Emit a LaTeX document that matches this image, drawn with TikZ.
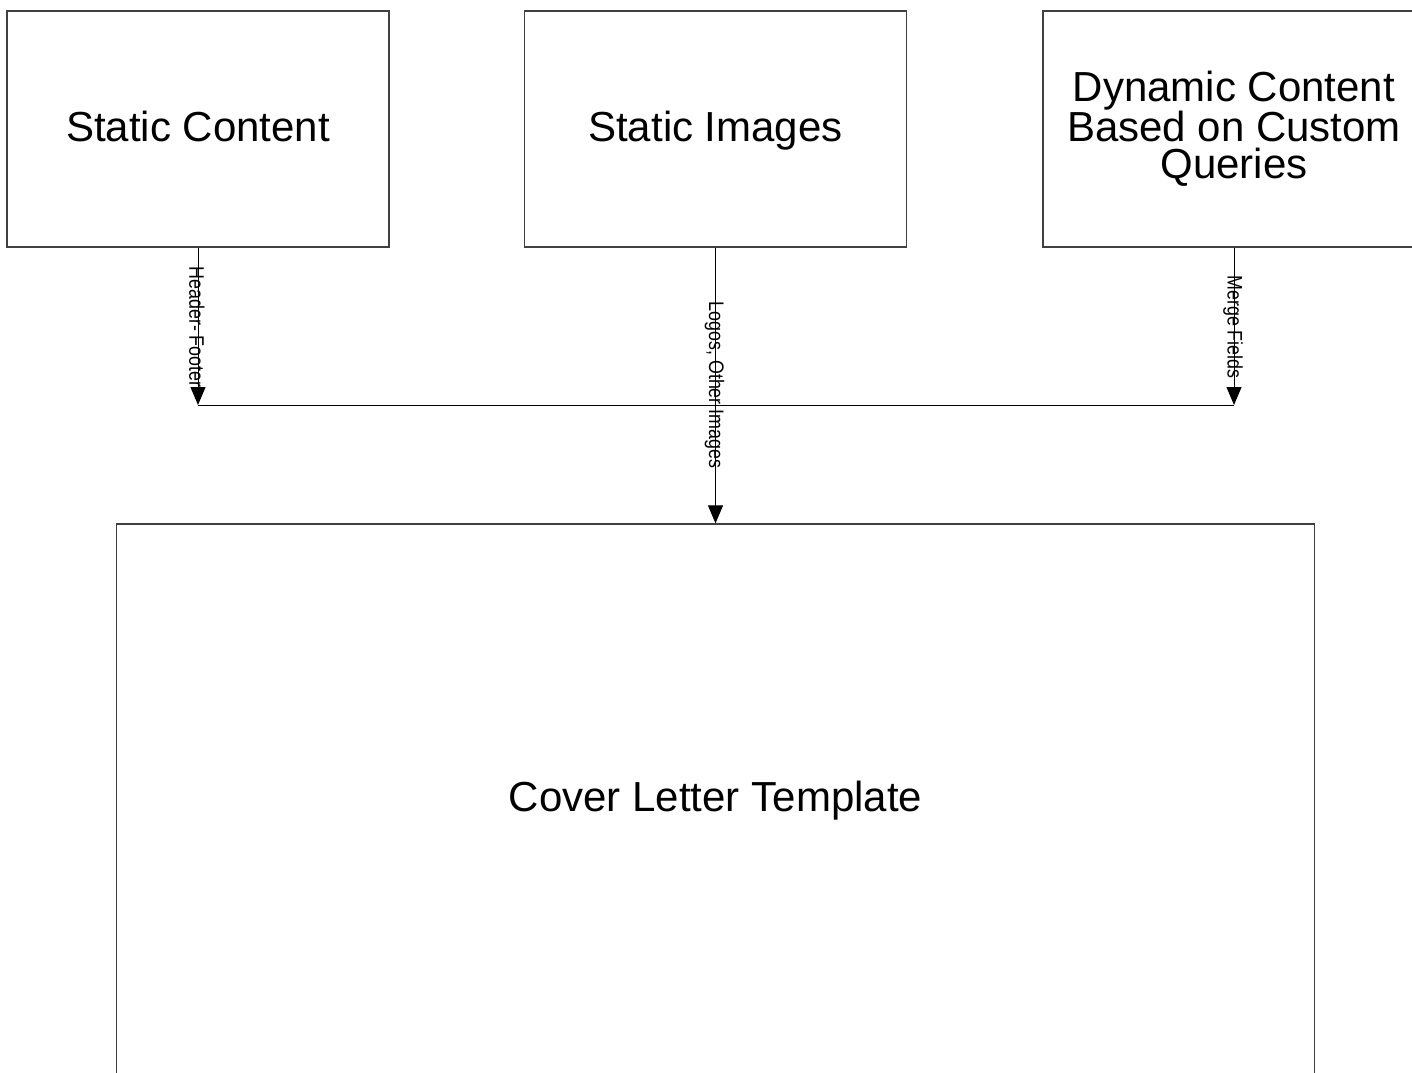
\documentclass[tikz,border=0pt]{standalone}
\usepackage{fontspec}
\setmainfont{Liberation Sans}
\newfontfamily\narrowfont[FakeStretch=0.85]{Liberation Sans}
\usetikzlibrary{arrows.meta}
\begin{document}
\begin{tikzpicture}[x=1pt,y=-1pt,
  box/.style={draw=black!75, line width=1.3pt, minimum width=382pt, minimum height=236pt,
    inner sep=0pt, font=\fontsize{42}{37}\selectfont, align=center},
  oneline/.style={text height=30pt, text depth=5pt},
  lbl/.style={font=\narrowfont\fontsize{21}{21}\selectfont, rotate=-90, inner sep=0pt},
  conn/.style={draw=black, line width=1pt},
  arr/.style={conn, -{Triangle[width=15pt,length=18pt]}}]
\useasboundingbox (0,0) rectangle (1412,1072);
\clip (0,0) rectangle (1412,1072);
\node[box, oneline] (sc) at (198,129) {Static Content};
\node[box, oneline] (si) at (715.5,129) {Static Images};
\node[box] (dc) at (1234,129) {Dynamic Content\\Based on Custom\\Queries};
\node[box, oneline, minimum width=1198pt, minimum height=550pt] (clt) at (715.5,799) {Cover Letter Template};
\coordinate (jl) at (198,405);
\coordinate (jr) at (1234,405);
\draw[conn] (jl) -- (jr);
\draw[arr] (sc.south) -- (jl);
\draw[arr] (dc.south) -- (jr);
\draw[arr] (si.south) -- (clt.north);
\node[lbl] (l1) at (197,327) {Header- Footer};
\node[lbl] (l2) at (714.5,385) {Logos, Other Images};
\node[lbl] (l3) at (1233,327) {Merge Fields};
\end{tikzpicture}
\end{document}
